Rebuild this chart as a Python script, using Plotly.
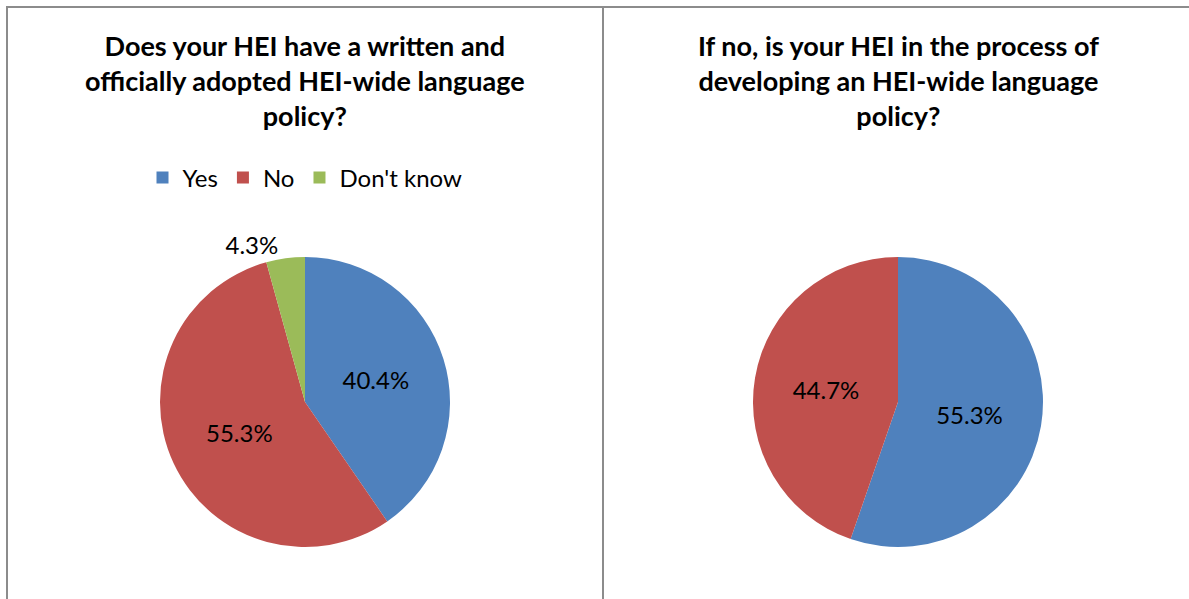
import plotly.graph_objects as go

W, H = 1189, 599

labels1 = ["Yes", "No", "Don't know"]
values1 = [40.4, 55.3, 4.3]
labels2 = ["Yes", "No"]
values2 = [55.3, 44.7]
colors = {"Yes": "#4F81BD", "No": "#C0504D", "Don't know": "#9BBB59"}

title1 = "Does your HEI have a written and<br>officially adopted HEI-wide language<br>policy?"
title2 = "If no, is your HEI in the process of<br>developing an HEI-wide language<br>policy?"

FONT = "Lato, Carlito, Calibri, sans-serif"

def px_x(p):
    return p / W

def px_y(p):
    return 1 - p / H

fig = go.Figure()
fig.add_trace(go.Pie(
    labels=labels1, values=values1, sort=False, direction="clockwise", rotation=0,
    marker=dict(colors=[colors[l] for l in labels1]),
    texttemplate="%{percent:.1%}", textinfo="percent",
    textposition=["inside", "inside", "outside"],
    insidetextorientation="horizontal",
    textfont=dict(family=FONT, size=24, color="black"),
    domain=dict(x=[px_x(160), px_x(450)], y=[px_y(547), px_y(257)]),
    legend="legend", hoverinfo="label+percent",
))
fig.add_trace(go.Pie(
    labels=labels2, values=values2, sort=False, direction="clockwise", rotation=0,
    marker=dict(colors=[colors[l] for l in labels2]),
    texttemplate="%{percent:.1%}", textinfo="percent",
    textposition="inside", insidetextorientation="horizontal",
    textfont=dict(family=FONT, size=24, color="black"),
    domain=dict(x=[px_x(753), px_x(1043)], y=[px_y(547), px_y(257)]),
    legend="legend2", hoverinfo="label+percent",
))

line = dict(color="#8c8c8c", width=2)
fig.add_shape(type="line", xref="paper", yref="paper", x0=px_x(6), x1=1, y0=px_y(7), y1=px_y(7), line=line)
fig.add_shape(type="line", xref="paper", yref="paper", x0=px_x(7), x1=px_x(7), y0=px_y(6), y1=0, line=line)
fig.add_shape(type="line", xref="paper", yref="paper", x0=px_x(603), x1=px_x(603), y0=px_y(6), y1=0, line=line)

for t, cx in [(title1, 305), (title2, 898)]:
    fig.add_annotation(text=t, xref="paper", yref="paper", x=px_x(cx), y=px_y(27),
                       xanchor="center", yanchor="top", showarrow=False, align="center",
                       font=dict(family=FONT, size=27, color="black", weight="bold"))

legend_common = dict(orientation="h", xanchor="center", yanchor="middle",
                     font=dict(family=FONT, size=24, color="black"),
                     bgcolor="rgba(0,0,0,0)", itemwidth=30, tracegroupgap=0)
fig.update_layout(
    width=W, height=H, margin=dict(l=0, r=0, t=0, b=0),
    paper_bgcolor="white", plot_bgcolor="white",
    legend=dict(x=px_x(305), y=px_y(178), **legend_common),
    legend2=dict(x=px_x(898), y=px_y(178), **legend_common),
)

fig.write_html("out.html")
